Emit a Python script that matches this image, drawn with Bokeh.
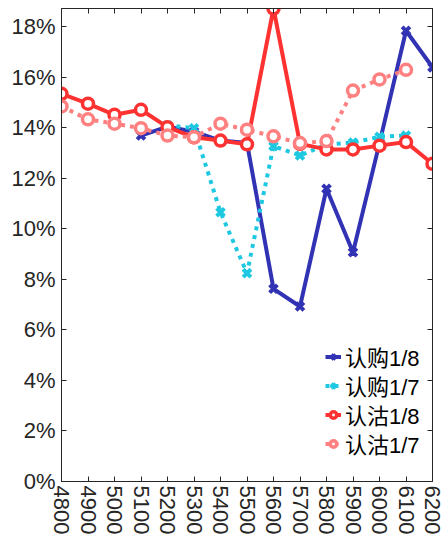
from bokeh.plotting import figure
from bokeh.models import Range1d, LinearAxis, FixedTicker, PrintfTickFormatter, Legend
from bokeh.embed import file_html
from bokeh.resources import INLINE

strikes = [4800, 4900, 5000, 5100, 5200, 5300, 5400, 5500, 5600, 5700, 5800, 5900, 6000, 6100, 6200]

call_18_x = [5100, 5200, 5300, 5400, 5500, 5600, 5700, 5800, 5900, 6000, 6100, 6200]
call_18 = [13.70, 14.05, 13.85, 13.50, 13.40, 7.63, 6.93, 11.59, 9.08, 13.40, 17.85, 16.40]

call_17_x = [5200, 5300, 5400, 5500, 5600, 5700, 5800, 5900, 6000, 6100]
call_17 = [14.10, 13.99, 10.66, 8.25, 13.28, 12.91, 13.35, 13.42, 13.65, 13.70]

put_18_x = strikes
put_18 = [15.35, 14.96, 14.52, 14.72, 14.03, 13.63, 13.50, 13.35, 18.73, 13.37, 13.15, 13.15, 13.30, 13.44, 12.58]

put_17_x = [4800, 4900, 5000, 5100, 5200, 5300, 5400, 5500, 5600, 5700, 5800, 5900, 6000, 6100]
put_17 = [14.85, 14.34, 14.17, 13.99, 13.70, 13.63, 14.17, 13.93, 13.67, 13.40, 13.48, 15.48, 15.92, 16.30]

y_ticks = [0, 2, 4, 6, 8, 10, 12, 14, 16, 18]
labels = ["认购1/8", "认购1/7", "认沽1/8", "认沽1/7"]
colors = ["#3232b4", "#1ec8e1", "#ff3232", "#ff8080"]

AX = "#262626"
FONT = "'Liberation Sans', 'Noto Sans CJK SC'"

p = figure(output_backend="svg", toolbar_location=None,
           frame_width=371, frame_height=473,
           min_border_left=61, min_border_right=10, min_border_top=8, min_border_bottom=62,
           x_range=Range1d(4800, 6200), y_range=Range1d(0, max(put_18)),
           x_axis_location=None, y_axis_location=None)
p.xgrid.visible = False
p.ygrid.visible = False
p.outline_line_color = AX
p.outline_line_width = 1
p.background_fill_color = "white"

def style_axis(ax, ticks, show_labels=True):
    ax.major_tick_in = 5
    ax.major_tick_out = 0
    ax.minor_tick_in = 0
    ax.minor_tick_out = 0
    ax.axis_line_color = AX
    ax.major_tick_line_color = AX
    ax.major_label_text_color = AX
    ax.major_label_text_font = "Liberation Sans"
    ax.major_label_text_font_size = "22px"
    ax.major_label_standoff = 6
    if not show_labels:
        ax.major_label_overrides = {t: "" for t in ticks}
        ax.major_label_standoff = 0

xb = LinearAxis(ticker=FixedTicker(ticks=strikes))
style_axis(xb, strikes)
xb.major_label_orientation = "vertical"
xb.major_label_standoff = 4
p.add_layout(xb, "below")
xt = LinearAxis(ticker=FixedTicker(ticks=strikes))
style_axis(xt, strikes, False)
p.add_layout(xt, "above")

yl = LinearAxis(ticker=FixedTicker(ticks=y_ticks), formatter=PrintfTickFormatter(format="%d%%"))
style_axis(yl, y_ticks)
p.add_layout(yl, "left")
yr = LinearAxis(ticker=FixedTicker(ticks=y_ticks))
style_axis(yr, y_ticks, False)
p.add_layout(yr, "right")

r1 = p.line(call_18_x, call_18, color=colors[0], line_width=4)
m1 = p.scatter(call_18_x, call_18, marker="x", size=11, line_width=4, color=colors[0])
r2 = p.line(call_17_x, call_17, color=colors[1], line_width=4, line_dash="4 5")
m2 = p.scatter(call_17_x, call_17, marker="x", size=11, line_width=4, color=colors[1])
r3 = p.line(put_18_x, put_18, color=colors[2], line_width=4)
m3 = p.scatter(put_18_x, put_18, marker="circle", size=11, line_width=3.5, line_color=colors[2], fill_color="white")
r4 = p.line(put_17_x, put_17, color=colors[3], line_width=4, line_dash="4 5")
m4 = p.scatter(put_17_x, put_17, marker="circle", size=11, line_width=3.5, line_color=colors[3], fill_color="white")

groups = [[r1, m1], [r2, m2], [r3, m3], [r4, m4]]
for i, (lab, rs) in enumerate(zip(labels, groups)):
    legend = Legend(items=[(lab, rs)], location=(264, 22 + 29 * (3 - i)))
    legend.border_line_color = None
    legend.background_fill_alpha = 0
    legend.label_text_font = FONT
    legend.label_text_font_size = "22px"
    legend.label_text_color = "black"
    legend.glyph_width = 16
    legend.glyph_height = 25
    legend.label_height = 25
    legend.padding = 0
    legend.margin = 0
    legend.label_standoff = 4
    p.add_layout(legend)

open("out.html", "w").write(file_html(p, INLINE))
